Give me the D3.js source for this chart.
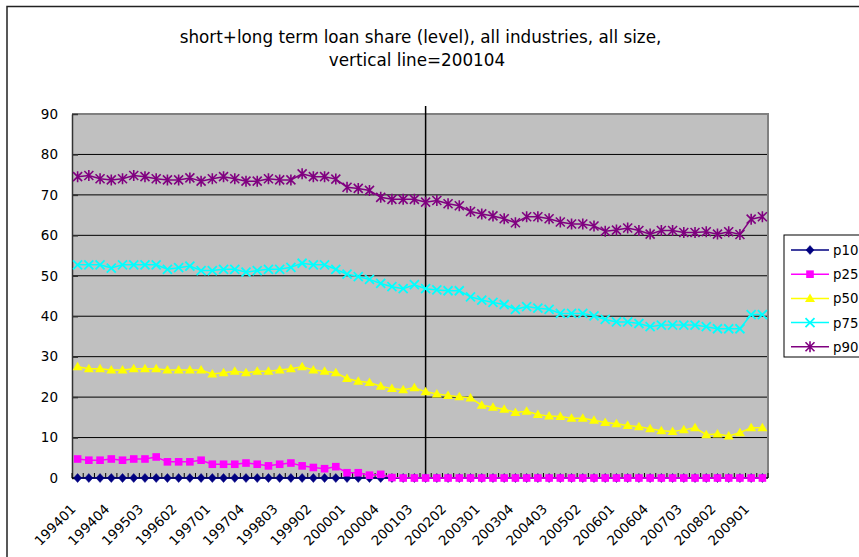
<!DOCTYPE html>
<html>
<head>
<meta charset="utf-8">
<script src="https://cdn.jsdelivr.net/npm/d3@7"></script>
<style>
  html, body { margin: 0; padding: 0; background: #fff; }
  svg { display: block; font-family: "DejaVu Sans", "Liberation Sans", Arial, sans-serif; }
</style>
</head>
<body>
<svg id="chart" width="859" height="557"></svg>
<script>
// Quarterly periods, 1994Q1 .. 2009Q2
const periods = [
  "199401","199402","199403","199404","199501","199502","199503","199504",
  "199601","199602","199603","199604","199701","199702","199703","199704",
  "199801","199802","199803","199804","199901","199902","199903","199904",
  "200001","200002","200003","200004","200101","200102","200103","200104",
  "200201","200202","200203","200204","200301","200302","200303","200304",
  "200401","200402","200403","200404","200501","200502","200503","200504",
  "200601","200602","200603","200604","200701","200702","200703","200704",
  "200801","200802","200803","200804","200901","200902"
];

// Labelled periods on the category axis (every third quarter)
const tickLabels = [
  "199401","199404","199503","199602","199701","199704","199803","199902",
  "200001","200004","200103","200202","200301","200304","200403","200502",
  "200601","200604","200703","200802","200901"
];

const yTicks = [0, 10, 20, 30, 40, 50, 60, 70, 80, 90];

// Percentile series of the loan share (%)
const p10 = [
  0,0,0,0,0,0,0,0,0,0,0,0,0,0,0,0,0,0,0,0,
  0,0,0,0,0,0,0,0,0,0,0,0,0,0,0,0,0,0,0,0,0,0,0,0,0,
  0,0,0,0,0,0,0,0,0,0,0,0,0,0,0,0,0
];
const p25 = [
  4.7,4.4,4.4,4.7,4.4,4.7,4.7,5.2,4.0,4.0,4.0,4.4,3.4,3.4,3.4,3.7,3.4,3.0,3.4,3.7,
  3.0,2.6,2.3,2.8,1.3,1.3,0.7,0.9,0.1,0,0,0,0,0,0,0,0,0,0,0,0,0,0,0,0,
  0,0,0,0,0,0,0,0,0,0,0,0,0,0,0,0,0
];
const p50 = [
  27.5,27.0,27.0,26.7,26.7,27.0,27.0,27.0,26.7,26.7,26.7,26.7,25.7,26.0,26.4,26.0,26.4,26.4,26.7,27.0,
  27.5,26.7,26.4,26.0,24.6,23.9,23.6,22.7,22.1,21.8,22.3,21.3,20.8,20.4,20.1,19.8,18.0,17.5,17.0,16.2,16.5,15.7,15.3,15.2,14.8,
  14.8,14.3,13.7,13.4,13.0,12.7,12.2,11.7,11.5,11.9,12.4,10.7,10.9,10.4,11.2,12.4,12.4
];
const p75 = [
  52.7,52.7,52.7,51.9,52.7,52.7,52.7,52.7,51.6,52.0,52.4,51.3,51.3,51.6,51.6,50.9,51.3,51.6,51.6,52.1,
  53.1,52.7,52.7,51.6,50.4,49.8,49.1,48.1,47.3,46.8,47.8,46.8,46.5,46.3,46.3,44.8,44.0,43.4,42.9,41.7,42.4,42.0,41.7,40.7,40.7,
  40.7,40.1,39.2,38.6,38.6,38.2,37.4,37.8,37.8,37.8,37.8,37.4,36.9,36.9,36.9,40.4,40.4
];
const p90 = [
  74.5,74.8,74.0,73.7,74.0,74.8,74.5,74.0,73.7,73.7,74.2,73.4,74.0,74.5,74.0,73.4,73.4,74.0,73.7,73.7,
  75.2,74.5,74.5,73.9,71.9,71.6,71.1,69.4,68.9,68.9,68.9,68.2,68.6,67.8,67.3,65.9,65.3,64.8,64.1,63.1,64.6,64.6,64.1,63.3,62.8,
  62.8,62.3,61.0,61.3,61.8,61.2,60.3,61.2,61.2,60.7,60.7,60.9,60.3,60.9,60.2,64.0,64.6
];

const seriesNames = ["p10", "p25", "p50", "p75", "p90"];
const seriesValues = [p10, p25, p50, p75, p90];
const seriesColors = ["#000080", "#FF00FF", "#FFFF00", "#00FFFF", "#800080"];
const seriesShapes = ["diamond", "square", "triangle", "cross", "asterisk"];
const markerPeriod = "200104";

const titleLines = [
  "short+long term loan share (level), all industries, all size,",
  "vertical line=200104"
];

const svg = d3.select("#chart");
const plot = { left: 72, right: 768, top: 114, bottom: 478 };

const x = d3.scalePoint().domain(periods).range([plot.left, plot.right]).padding(0.5);
const y = d3.scaleLinear().domain([0, 90]).range([plot.bottom, plot.top]);
const step = x.step();

// outer chart frame
svg.append("rect")
  .attr("x", 7).attr("y", 6.5).attr("width", 900).attr("height", 600)
  .attr("fill", "#fff").attr("stroke", "#222").attr("stroke-width", 1.5);

// title
svg.append("g").selectAll("text").data(titleLines).enter().append("text")
  .attr("x", (d, i) => i === 0 ? 420.5 : 417).attr("y", (d, i) => 43 + i * 22.5)
  .attr("text-anchor", "middle")
  .attr("font-size", 16.8)
  .attr("fill", "#000")
  .text(d => d);

// plot background
svg.append("rect")
  .attr("x", plot.left).attr("y", plot.top)
  .attr("width", plot.right - plot.left).attr("height", plot.bottom - plot.top)
  .attr("fill", "#C0C0C0");

// horizontal gridlines
svg.append("g").selectAll("line").data(yTicks.filter(v => v > 0 && v < 90)).enter().append("line")
  .attr("x1", plot.left).attr("x2", plot.right)
  .attr("y1", d => y(d)).attr("y2", d => y(d))
  .attr("stroke", "#000").attr("stroke-width", 1);

// plot border (top and right)
svg.append("path")
  .attr("d", `M${plot.left},${plot.top}H${plot.right}V${plot.bottom}`)
  .attr("fill", "none").attr("stroke", "#808080").attr("stroke-width", 2);

// y axis
const yAxis = d3.axisLeft(y).tickValues(yTicks).tickSizeInner(-6).tickSizeOuter(0).tickPadding(14);
const gy = svg.append("g").attr("transform", `translate(${plot.left},0)`).call(yAxis);
gy.select(".domain").attr("stroke", "#333").attr("stroke-width", 1.5);
gy.selectAll(".tick line").attr("stroke", "#333").attr("stroke-width", 1.5);
gy.selectAll(".tick text").attr("font-size", 13.5).attr("fill", "#000")
  .attr("font-family", "DejaVu Sans, Liberation Sans, Arial, sans-serif");

// x axis: ticks at category boundaries, labels every third period
const boundaries = d3.range(periods.length + 1).map(i => plot.left + i * step);
svg.append("g").selectAll("line").data(boundaries).enter().append("line")
  .attr("x1", d => d).attr("x2", d => d)
  .attr("y1", plot.bottom).attr("y2", plot.bottom - 5)
  .attr("stroke", "#000").attr("stroke-width", 1);
svg.append("line")
  .attr("x1", plot.left).attr("x2", plot.right)
  .attr("y1", plot.bottom).attr("y2", plot.bottom)
  .attr("stroke", "#000").attr("stroke-width", 1.5);
svg.append("g").selectAll("text").data(tickLabels).enter().append("text")
  .attr("transform", d => `translate(${x(d) - 1},${plot.bottom + 32}) rotate(-45)`)
  .attr("text-anchor", "end")
  .attr("font-size", 13.5)
  .attr("fill", "#000")
  .text(d => d);

// vertical reference line
svg.append("line")
  .attr("x1", x(markerPeriod)).attr("x2", x(markerPeriod))
  .attr("y1", 106).attr("y2", plot.bottom)
  .attr("stroke", "#000").attr("stroke-width", 1.5);

// marker drawing
function drawMarker(g, shape, color, cx, cy) {
  const s = 4;
  if (shape === "diamond") {
    g.append("path").attr("d", `M${cx},${cy - s - 0.5}L${cx + s},${cy}L${cx},${cy + s + 0.5}L${cx - s},${cy}Z`)
      .attr("fill", color).attr("stroke", color).attr("stroke-width", 0.5);
  } else if (shape === "square") {
    g.append("rect").attr("x", cx - 3.8).attr("y", cy - 3.8).attr("width", 7.6).attr("height", 7.6)
      .attr("fill", color);
  } else if (shape === "triangle") {
    g.append("path").attr("d", `M${cx},${cy - 5}L${cx + 5},${cy + 3.5}L${cx - 5},${cy + 3.5}Z`)
      .attr("fill", color);
  } else if (shape === "cross") {
    g.append("path").attr("d", `M${cx - 4.5},${cy - 4.5}L${cx + 4.5},${cy + 4.5}M${cx - 4.5},${cy + 4.5}L${cx + 4.5},${cy - 4.5}`)
      .attr("stroke", color).attr("stroke-width", 1.8).attr("fill", "none");
  } else if (shape === "asterisk") {
    g.append("path").attr("d", `M${cx - 4.5},${cy - 4.5}L${cx + 4.5},${cy + 4.5}M${cx - 4.5},${cy + 4.5}L${cx + 4.5},${cy - 4.5}M${cx},${cy - 5.5}L${cx},${cy + 5.5}`)
      .attr("stroke", color).attr("stroke-width", 1.6).attr("fill", "none");
  }
}

const line = d3.line().x((d, i) => x(periods[i])).y(d => y(d));

seriesValues.forEach((vals, k) => {
  const g = svg.append("g");
  g.append("path").datum(vals)
    .attr("d", line)
    .attr("fill", "none")
    .attr("stroke", seriesColors[k])
    .attr("stroke-width", 1.5);
  vals.forEach((v, i) => drawMarker(g, seriesShapes[k], seriesColors[k], x(periods[i]), y(v)));
});

// legend (its box runs past the frame edge)
const legend = svg.append("g");
legend.append("rect")
  .attr("x", 784).attr("y", 235).attr("width", 120).attr("height", 122)
  .attr("fill", "#fff").attr("stroke", "#000").attr("stroke-width", 1);
seriesNames.forEach((name, k) => {
  const ly = 250 + k * 24.2;
  legend.append("line")
    .attr("x1", 791).attr("x2", 829).attr("y1", ly).attr("y2", ly)
    .attr("stroke", seriesColors[k]).attr("stroke-width", 1.5);
  drawMarker(legend, seriesShapes[k], seriesColors[k], 810, ly);
  legend.append("text")
    .attr("x", 833).attr("y", ly + 5)
    .attr("font-size", 13.3).attr("fill", "#000")
    .text(name);
});
</script>
</body>
</html>
